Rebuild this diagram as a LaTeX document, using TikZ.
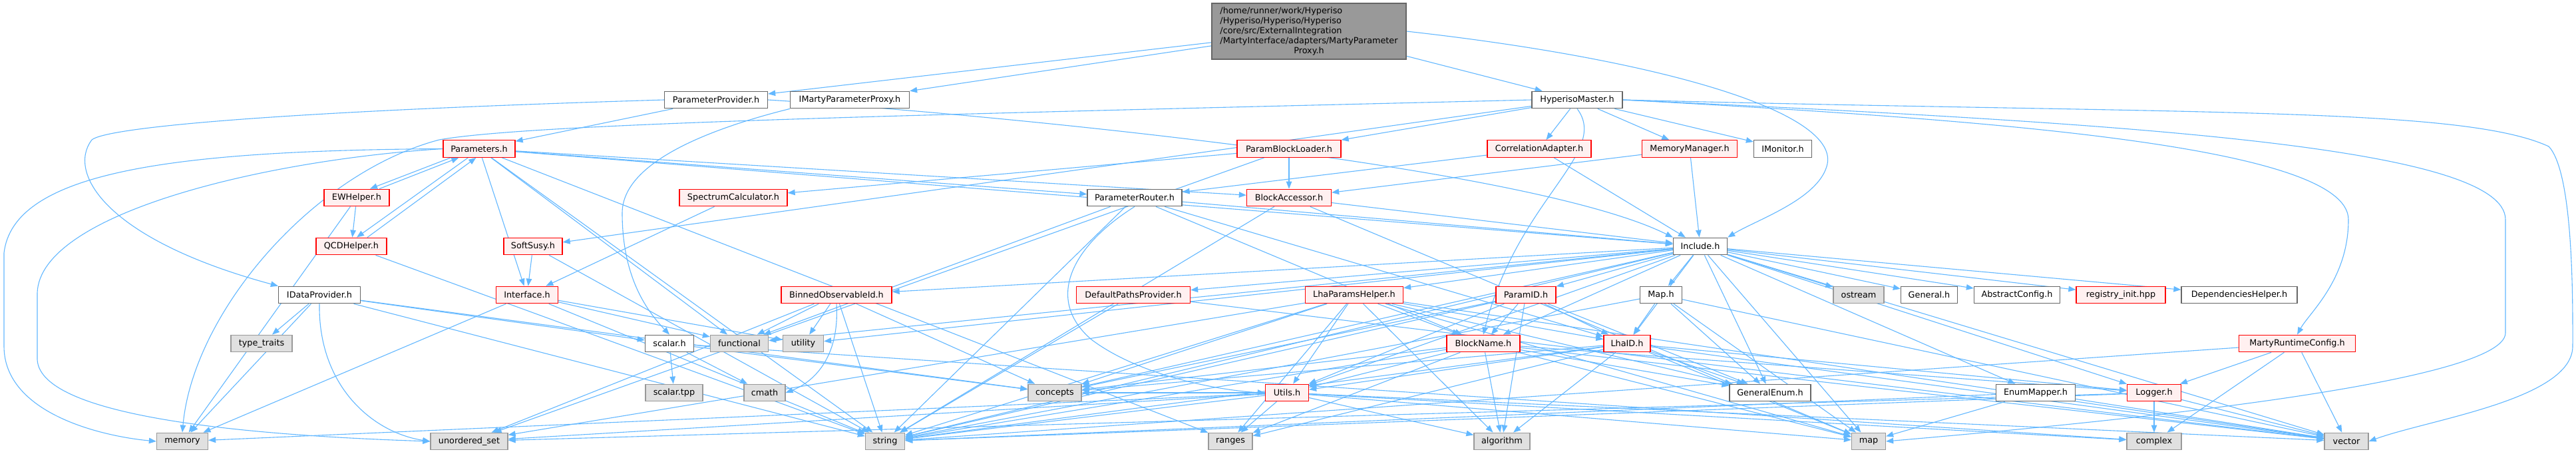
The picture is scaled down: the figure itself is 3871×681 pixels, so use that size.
\documentclass[tikz,border=0pt]{standalone}
\usepackage{fontspec}
\setmainfont{DejaVu Sans}
\usetikzlibrary{arrows.meta}
\definecolor{edgec}{HTML}{63B8FF}
\definecolor{redb}{HTML}{FF0000}
\definecolor{redf}{HTML}{FFF0F0}
\definecolor{grayf}{HTML}{E0E0E0}
\definecolor{grayb}{HTML}{999999}
\definecolor{darkb}{HTML}{666666}
\definecolor{topf}{HTML}{999999}
\pgfdeclarelayer{bg}
\pgfsetlayers{bg,main}
\newcommand{\dfont}{\fontsize{12.8}{15}\selectfont}
\begin{document}
\begin{tikzpicture}[x=1pt,y=-1pt,
 nd/.style={draw, line width=1.3pt, minimum height=25.5pt, inner sep=0pt, font=\dfont, text=black},
 wn/.style={nd, draw=darkb, fill=white},
 rn/.style={nd, draw=redb, fill=redf},
 gn/.style={nd, draw=grayb, fill=grayf},
 tn/.style={nd, draw=darkb, fill=topf, minimum height=84pt},
 conn/.style={draw=edgec, line width=1.1pt, -{Triangle[length=11pt,width=8.5pt]}}
]
\useasboundingbox (0,0) rectangle (3871,681);
% nodes
\node[tn, minimum width=292pt] (t) at (1967,47) {\begin{tabular}{@{}l@{}}/home/runner/work/Hyperiso\\/Hyperiso/Hyperiso/Hyperiso\\/core/src/ExternalIntegration\\/MartyInterface/adapters/MartyParameter\\\multicolumn{1}{@{}c@{}}{Proxy.h}\end{tabular}};
\node[wn, minimum width=155pt] (pp) at (1076,150) {ParameterProvider.h};
\node[wn, minimum width=179pt] (imp) at (1277,150) {IMartyParameterProxy.h};
\node[wn, minimum width=136pt] (hm) at (2370,150) {HyperisoMaster.h};
\node[rn, minimum width=108pt] (params) at (720,223.5) {Parameters.h};
\node[rn, minimum width=156pt] (pbl) at (1937,223.5) {ParamBlockLoader.h};
\node[rn, minimum width=156pt] (corr) at (2313,223.5) {CorrelationAdapter.h};
\node[rn, minimum width=143pt] (mm) at (2539,223.5) {MemoryManager.h};
\node[wn, minimum width=87pt] (imon) at (2679,223.5) {IMonitor.h};
\node[rn, minimum width=98pt] (ew) at (536,297) {EWHelper.h};
\node[rn, minimum width=162pt] (spec) at (1102,297) {SpectrumCalculator.h};
\node[wn, minimum width=142pt] (router) at (1705,297) {ParameterRouter.h};
\node[rn, minimum width=127pt] (ba) at (1937,297) {BlockAccessor.h};
\node[rn, minimum width=106pt] (qcd) at (528,370) {QCDHelper.h};
\node[rn, minimum width=88pt] (soft) at (801,370) {SoftSusy.h};
\node[wn, minimum width=81pt] (inc) at (2555,370) {Include.h};
\node[wn, minimum width=123pt] (idp) at (480,443) {IDataProvider.h};
\node[rn, minimum width=93pt] (iface) at (792,443) {Interface.h};
\node[rn, minimum width=166pt] (binned) at (1257,443) {BinnedObservableId.h};
\node[rn, minimum width=171pt] (dpp) at (1703,443) {DefaultPathsProvider.h};
\node[rn, minimum width=147pt] (lhap) at (2035,443) {LhaParamsHelper.h};
\node[rn, minimum width=90pt] (pid) at (2293,443) {ParamID.h};
\node[wn, minimum width=63pt] (maph) at (2496,443) {Map.h};
\node[gn, minimum width=76pt] (ostream) at (2793,443) {ostream};
\node[wn, minimum width=85pt] (general) at (2899,443) {General.h};
\node[wn, minimum width=129pt] (absc) at (3031,443) {AbstractConfig.h};
\node[rn, minimum width=134pt] (reg) at (3187,443) {registry\_init.hpp};
\node[wn, minimum width=174pt] (dep) at (3365,443) {DependenciesHelper.h};
\node[gn, minimum width=92pt] (tt) at (393,516) {type\_traits};
\node[wn, minimum width=73pt] (scalar) at (1006,516) {scalar.h};
\node[gn, minimum width=87pt] (func) at (1111,516) {functional};
\node[gn, minimum width=61pt] (util) at (1207,516) {utility};
\node[rn, minimum width=110pt] (bn) at (2229,516) {BlockName.h};
\node[rn, minimum width=70pt] (lhaid) at (2445,516) {LhaID.h};
\node[rn, minimum width=175pt] (mrc) at (3452,516) {MartyRuntimeConfig.h};
\node[gn, minimum width=86pt] (stpp) at (1013,590) {scalar.tpp};
\node[gn, minimum width=62pt] (cmath) at (1149,590) {cmath};
\node[gn, minimum width=80pt] (concepts) at (1585,590) {concepts};
\node[rn, minimum width=65pt] (utils) at (1934,590) {Utils.h};
\node[wn, minimum width=122pt] (genum) at (2660,590) {GeneralEnum.h};
\node[wn, minimum width=119pt] (emap) at (3059,590) {EnumMapper.h};
\node[rn, minimum width=81pt] (logger) at (3237,590) {Logger.h};
\node[gn, minimum width=77pt] (memory) at (274,663) {memory};
\node[gn, minimum width=116pt] (uset) at (705,663) {unordered\_set};
\node[gn, minimum width=59pt] (string) at (1330,663) {string};
\node[gn, minimum width=66pt] (ranges) at (1849,663) {ranges};
\node[gn, minimum width=84pt] (algorithm) at (2257,663) {algorithm};
\node[gn, minimum width=51pt] (map) at (2808,663) {map};
\node[gn, minimum width=82pt] (complex) at (3237,663) {complex};
\node[gn, minimum width=66pt] (vector) at (3526,663) {vector};
% edges
\begin{pgfonlayer}{bg}
\fill[white] (0,0) rectangle (3871,681);
\foreach \a/\b in {t/pp, t/imp, t/hm, pp/params,
  hm/pbl, hm/corr, hm/mm, hm/imon, hm/soft,
  params/router, params/ba, params/inc, params/iface, params/func, params/string, params/ranges,
  ew/qcd, ew/memory, qcd/string,
  pbl/ba, pbl/spec, pbl/uset, corr/router, corr/inc, mm/ba, mm/inc,
  router/lhaid, router/bn, router/string, router/inc, router/func,
  ba/inc, ba/string, ba/map, spec/iface, soft/iface, soft/string,
  iface/memory, iface/func, iface/util, iface/string,
  idp/tt, idp/memory, idp/scalar, idp/concepts, idp/string,
  binned/func, binned/util, binned/string, binned/concepts, binned/uset,
  scalar/stpp, scalar/cmath, scalar/concepts, scalar/complex,
  dpp/string, dpp/vector,
  inc/maph, inc/ostream, inc/general, inc/absc, inc/reg, inc/dep, inc/lhaid, inc/pid, inc/bn, inc/lhap, inc/dpp, inc/binned, inc/genum, inc/emap, inc/logger, inc/map, inc/vector, inc/string, inc/concepts, inc/utils, inc/func, inc/util,
  pid/bn, pid/algorithm, pid/utils, pid/lhaid, pid/concepts, pid/string, pid/genum,
  lhap/utils, lhap/algorithm, lhap/ranges, lhap/bn, lhap/string, lhap/concepts, lhap/uset, lhap/map, lhap/genum, lhap/vector, lhap/lhaid,
  bn/utils, bn/algorithm, bn/ranges, bn/string, bn/concepts, bn/map, bn/vector, bn/logger, bn/genum,
  lhaid/genum, lhaid/map, lhaid/logger, lhaid/vector, lhaid/string, lhaid/algorithm, lhaid/utils, lhaid/concepts, lhaid/ranges,
  maph/lhaid, maph/map, maph/vector, maph/genum, maph/string,
  utils/ranges, utils/algorithm, utils/string, utils/uset, utils/memory, utils/vector, utils/map, utils/complex, utils/concepts,
  emap/map, emap/vector, emap/string,
  logger/complex, logger/vector, logger/string, logger/uset,
  mrc/logger, mrc/complex, mrc/vector, mrc/string}
  \draw[conn] (\a) -- (\b);
% paired edges
\draw[conn] ([xshift=12pt]params.south west) -- ([xshift=20pt]ew.north);
\draw[conn] ([xshift=34pt]ew.north) -- ([xshift=24pt]params.south west);
\draw[conn] ([xshift=38pt]params.south west) -- ([xshift=8pt]qcd.north);
\draw[conn] ([xshift=24pt]qcd.north) -- ([xshift=50pt]params.south west);
% curved edges
\draw[conn] (t.east) .. controls (2500,90) and (2770,170) .. (2745,250) .. controls (2730,300) and (2640,330) .. (inc.north east);
\draw[conn] (pp.west) .. controls (400,168) and (160,192) .. (138,210) .. controls (100,260) and (160,360) .. (idp.north west);
\draw[conn] (pp.east) .. controls (1500,172) and (2300,250) .. (inc.north west);
\draw[conn] (imp.south west) .. controls (1080,190) and (935,240) .. (935,320) .. controls (935,420) and (975,470) .. (scalar.north);
\draw[conn] (hm.west) .. controls (1400,172) and (800,185) .. (660,210) .. controls (470,260) and (290,470) .. (memory.north);
\draw[conn] (hm.south) .. controls (2420,230) and (2280,300) .. (bn.north);
\draw[conn] (hm.east) .. controls (3000,180) and (3529,220) .. (3529,330) .. controls (3529,420) and (3470,470) .. (mrc.north);
\draw[conn] (hm.east) .. controls (3300,172) and (3700,160) .. (3830,220) .. controls (3868,260) and (3866,460) .. (3866,520) .. controls (3866,600) and (3650,630) .. (vector.east);
\draw[conn] (hm.east) .. controls (3200,185) and (3765,220) .. (3765,330) -- (3765,500) .. controls (3765,580) and (3100,640) .. (map.east);
\draw[conn] (params.west) .. controls (250,226) and (20,260) .. (6,380) -- (6,520) .. controls (6,620) and (150,655) .. (memory.west);
\draw[conn] (params.west) .. controls (400,240) and (60,320) .. (56,440) -- (56,540) .. controls (60,630) and (400,655) .. (uset.west);
\draw[conn] (router.south) .. controls (1610,370) and (1570,450) .. (1640,510) .. controls (1720,570) and (1850,588) .. (utils.west);
\draw[conn] (idp.south) .. controls (478,580) and (560,650) .. (uset.west);
\draw[conn] (binned.south) .. controls (1262,540) and (1220,575) .. (cmath.east);
\end{pgfonlayer}
\end{tikzpicture}
\end{document}
